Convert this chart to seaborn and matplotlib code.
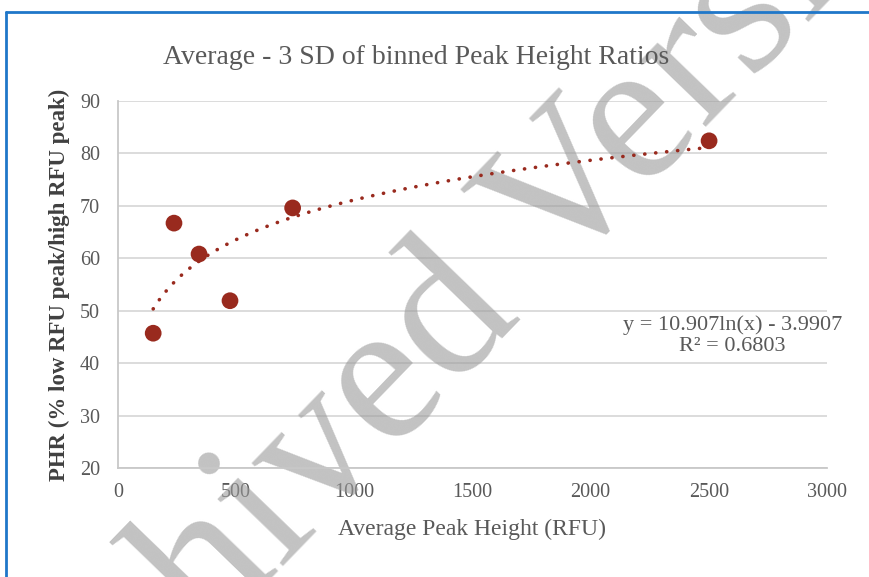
import numpy as np
import pandas as pd
import matplotlib.pyplot as plt
import seaborn as sns
from matplotlib.lines import Line2D

# data
avg_peak_height = [149, 237, 343, 474, 739, 2501]
phr_values = [45.7, 66.7, 60.8, 51.9, 69.6, 82.4]
x_ticks = [0, 500, 1000, 1500, 2000, 2500, 3000]
y_ticks = [20, 30, 40, 50, 60, 70, 80, 90]
eq_text = "y = 10.907ln(x) - 3.9907\nR² = 0.6803"

df = pd.DataFrame({"height": avg_peak_height, "phr": phr_values})

sns.set_style("whitegrid")
plt.rcParams["font.family"] = ["Liberation Serif", "DejaVu Serif"]

red = "#992A1E"
text_grey = "#595959"

fig = plt.figure(figsize=(8.7, 5.77), dpi=100)
ax = fig.add_axes([0.1356, 0.189, 0.815, 0.636])

# log trendline (dotted) + points
sns.regplot(data=df, x="height", y="phr", logx=True, ci=None, scatter=False,
            truncate=True, ax=ax,
            line_kws=dict(color=red, lw=2.6, linestyle=(0, (0.05, 3.0)),
                          dash_capstyle="round", zorder=2))
sns.scatterplot(data=df, x="height", y="phr", color=red, s=145,
                edgecolor="none", ax=ax, zorder=3)

ax.set_xlim(0, 3000)
ax.set_ylim(20, 90)
ax.set_xticks(x_ticks)
ax.set_yticks(y_ticks)
ax.grid(axis="y", color="#d9d9d9", lw=1.3)
ax.grid(axis="x", visible=False)
for side in ["top", "right"]:
    ax.spines[side].set_visible(False)
for side in ["left", "bottom"]:
    ax.spines[side].set_color("#c8c8c8")
    ax.spines[side].set_linewidth(1.3)
ax.tick_params(axis="both", length=0, labelsize=14.5, labelcolor=text_grey)
ax.tick_params(axis="y", pad=13)
ax.tick_params(axis="x", pad=11)

fig.text(0.478, 0.9, "Average - 3 SD of binned Peak Height Ratios",
         ha="center", va="center", fontsize=20, color=text_grey)
ax.set_xlabel("Average Peak Height (RFU)", fontsize=17, color=text_grey,
              labelpad=12)
ax.set_ylabel("PHR (% low RFU peak/high RFU peak)", fontsize=16.5,
              fontweight="bold", color="#404040", labelpad=7)

ax.text(2600, 45.3, eq_text, ha="center", va="center", fontsize=16,
        color=text_grey, linespacing=1.15)

# watermark
ax.text(0.566, 0.395, "Archived Version", transform=fig.transFigure,
        rotation=46, rotation_mode="anchor", ha="center", va="baseline",
        fontsize=146, color="#9a9a9a", alpha=0.6, zorder=0.8, clip_on=False)

# blue chart frame (top and left edges)
fig.add_artist(Line2D([0.0069, 1.0], [0.979, 0.979], transform=fig.transFigure,
                      color="#1F77C9", lw=2))
fig.add_artist(Line2D([0.0069, 0.0069], [0.0, 0.979], transform=fig.transFigure,
                      color="#1F77C9", lw=2))

fig.savefig("out.png", dpi=100)
